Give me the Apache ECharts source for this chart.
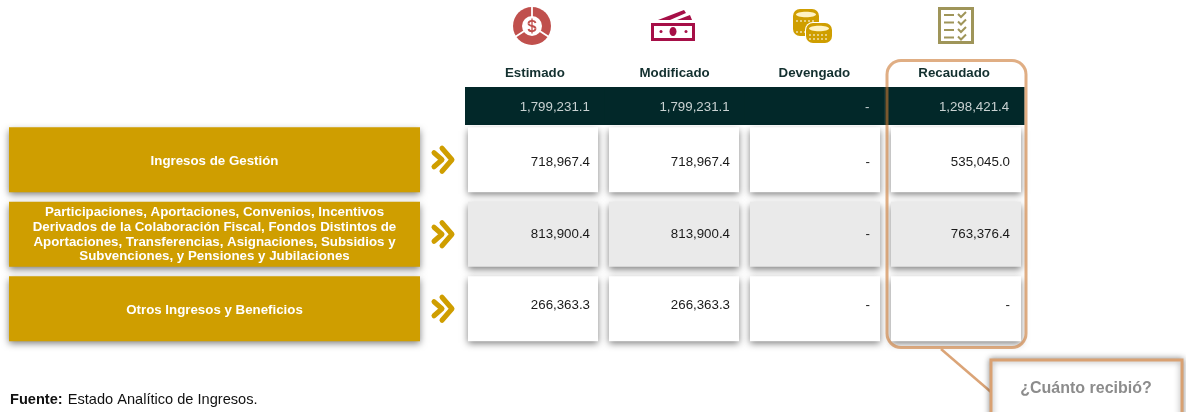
<!DOCTYPE html>
<html>
<head>
<meta charset="utf-8">
<style>
html, body { margin: 0; padding: 0; background: #fff; }
#chart { width: 1186px; height: 412px; }
</style>
<script src="https://cdn.jsdelivr.net/npm/echarts@6/dist/echarts.min.js"></script>
</head>
<body>
<div id="chart"></div>
<script>
// datos de la tabla
var columnas = ['Estimado', 'Modificado', 'Devengado', 'Recaudado'];
var conceptos = [
  'Ingresos de Gestión',
  'Participaciones, Aportaciones, Convenios, Incentivos\nDerivados de la Colaboración Fiscal, Fondos Distintos de\nAportaciones, Transferencias, Asignaciones, Subsidios y\nSubvenciones, y Pensiones y Jubilaciones',
  'Otros Ingresos y Beneficios'
];
var totales = [1799231.1, 1799231.1, null, 1298421.4];
var estimado = [718967.4, 813900.4, 266363.3];
var modificado = [718967.4, 813900.4, 266363.3];
var devengado = [null, null, null];
var recaudado = [535045.0, 763376.4, null];

var GOLD = '#CF9E00';
var DARK = '#022829';
var FONT = '"Liberation Sans", Arial, sans-serif';
var LINE = 'rgba(203,120,50,.6)';

var fmt = function (v) {
  if (v === null) return '-';
  return v.toLocaleString('en-US', { minimumFractionDigits: 1, maximumFractionDigits: 1 });
};

var cellData = [];
[estimado, modificado, devengado, recaudado].forEach(function (serie, c) {
  serie.forEach(function (v, r) {
    cellData.push([c, r, v]);
  });
});

var sombra = { shadowBlur: 7, shadowColor: 'rgba(0,0,0,.5)', shadowOffsetY: 3 };
// el texto de las celdas no va centrado en la fila
var ajusteFila = [2.5, 0, -3.5];
var ajusteColumna = [8, 9, 10, 11];
var ajusteConcepto = [1.5, 0.5, 1.5];

var renderCelda = function (params, api) {
  var c = api.value(0), r = api.value(1);
  var p = api.coord([c, r]);
  var w = 130, h = 65;
  return {
    type: 'group',
    children: [{
      type: 'rect',
      shape: { x: p[0] - w / 2, y: p[1] - h / 2, width: w, height: h },
      style: Object.assign({ fill: r === 1 ? '#EAEAEA' : '#fff' }, sombra)
    }, {
      type: 'text',
      z2: 5,
      style: {
        x: p[0] + w / 2 - ajusteColumna[c],
        y: p[1] + ajusteFila[r],
        text: fmt(cellData[params.dataIndex][2]),
        fill: '#1a1a1a',
        font: '13.3px ' + FONT,
        textAlign: 'right',
        textVerticalAlign: 'middle'
      }
    }]
  };
};

var renderTotal = function (params, api) {
  var c = api.value(0);
  var p = api.coord([c, 0]);
  var s = api.size([1, 1]);
  return {
    type: 'group',
    children: [{
      type: 'rect',
      shape: { x: p[0] - s[0] / 2, y: p[1] - s[1] / 2, width: s[0] + 0.5, height: s[1] },
      style: { fill: DARK }
    }, {
      type: 'text',
      z2: 5,
      style: {
        x: p[0] + 55,
        y: p[1] + 1,
        text: fmt(totales[c]),
        fill: '#C9D2D2',
        font: '13.3px ' + FONT,
        textAlign: 'right',
        textVerticalAlign: 'middle'
      }
    }]
  };
};

var renderConcepto = function (params, api) {
  var r = api.value(1);
  var p = api.coord([0, r]);
  var s = api.size([1, 1]);
  var h = 65;
  var x = p[0] + s[0] / 2;
  return {
    type: 'group',
    children: [{
      type: 'rect',
      shape: { x: x - s[0], y: p[1] - h / 2, width: s[0], height: h },
      style: Object.assign({ fill: GOLD }, sombra)
    }, {
      type: 'text',
      z2: 5,
      style: {
        x: p[0],
        y: p[1] + ajusteConcepto[r],
        text: conceptos[r],
        fill: '#fff',
        font: 'bold 13.3px ' + FONT,
        lineHeight: 14.7,
        textAlign: 'center',
        textVerticalAlign: 'middle'
      }
    }, {
      type: 'polyline',
      shape: { points: [[x + 14, p[1] - 7], [x + 22, p[1]], [x + 14, p[1] + 7]] },
      style: { fill: null, stroke: GOLD, lineWidth: 5, lineCap: 'round', lineJoin: 'round' }
    }, {
      type: 'polyline',
      shape: { points: [[x + 22, p[1] - 11.5], [x + 32, p[1]], [x + 22, p[1] + 11.5]] },
      style: { fill: null, stroke: GOLD, lineWidth: 5, lineCap: 'round', lineJoin: 'round' }
    }]
  };
};

// iconos de cabecera
var ROJO = '#C0504D', VINO = '#A60F47', OLIVO = '#9F9559';
var curva = function (x1, y1, cx1, cy1, cx2, cy2, x2, y2) {
  return {
    type: 'bezierCurve',
    shape: { x1: x1, y1: y1, cpx1: cx1, cpy1: cy1, cpx2: cx2, cpy2: cy2, x2: x2, y2: y2 },
    style: { fill: null, stroke: ROJO, lineWidth: 1.8 }
  };
};
var icono1 = {
  type: 'group', x: 532, y: 26, children: [
    { type: 'circle', shape: { r: 19 }, style: { fill: ROJO } },
    { type: 'line', shape: { x1: 0, y1: 0, x2: 0, y2: -19 }, style: { stroke: '#fff', lineWidth: 1.8 } },
    { type: 'line', shape: { x1: 0, y1: 0, x2: -17, y2: 11 }, style: { stroke: '#fff', lineWidth: 1.8 } },
    { type: 'line', shape: { x1: 0, y1: 0, x2: 17, y2: 11 }, style: { stroke: '#fff', lineWidth: 1.8 } },
    { type: 'circle', shape: { r: 10 }, style: { fill: '#fff' } },
    curva(3.5, -3, 3, -6, -3.5, -6, -3.5, -2.5),
    curva(-3.5, -2.5, -3.5, 1, 3.5, -1, 3.5, 2.5),
    curva(3.5, 2.5, 3.5, 6, -3, 6, -3.5, 3),
    { type: 'line', shape: { x1: 0, y1: -7.5, x2: 0, y2: 7.5 }, style: { stroke: ROJO, lineWidth: 1.3 } }
  ]
};
var icono2 = {
  type: 'group', x: 651, y: 10, children: [
    { type: 'rect', shape: { x: 1.5, y: 14.5, width: 41, height: 15 }, style: { fill: '#fff', stroke: VINO, lineWidth: 3 } },
    { type: 'ellipse', shape: { cx: 22, cy: 21.5, rx: 3.5, ry: 4.5 }, style: { fill: VINO } },
    { type: 'circle', shape: { cx: 10, cy: 21.5, r: 1.5 }, style: { fill: VINO } },
    { type: 'circle', shape: { cx: 35, cy: 21.5, r: 1.5 }, style: { fill: VINO } },
    { type: 'polygon', shape: { points: [[7, 10], [33, 0], [35, 3], [19, 10]] }, style: { fill: VINO } },
    { type: 'polygon', shape: { points: [[26, 10], [39, 5], [41, 10]] }, style: { fill: VINO } }
  ]
};
var moneda = function (x, y, w, h) {
  return [
    { type: 'rect', shape: { x: x - 1, y: y - 1, width: w + 2, height: h + 2, r: 8 }, style: { fill: '#fff' } },
    { type: 'rect', shape: { x: x, y: y, width: w, height: h, r: 7 }, style: { fill: GOLD } },
    { type: 'ellipse', shape: { cx: x + w / 2, cy: y + 5.5, rx: w / 2 - 3, ry: 2.8 }, style: { fill: '#FFF3C4' } },
    { type: 'line', shape: { x1: x + 3, y1: y + 12, x2: x + w - 3, y2: y + 12 }, style: { stroke: '#fff', lineWidth: 1.2, lineDash: [2, 2] } },
    { type: 'line', shape: { x1: x + 3, y1: y + h - 4, x2: x + w - 3, y2: y + h - 4 }, style: { stroke: '#fff', lineWidth: 1.2, lineDash: [2, 2] } }
  ];
};
var icono3 = { type: 'group', children: moneda(793, 9, 26, 27).concat(moneda(806, 23, 26, 20)) };
var check = function (y) {
  return [
    { type: 'line', shape: { x1: 6, y1: y, x2: 16, y2: y }, style: { stroke: OLIVO, lineWidth: 2 } },
    { type: 'polyline', shape: { points: [[20, y - 1], [23, y + 2], [28, y - 3]] }, style: { fill: null, stroke: OLIVO, lineWidth: 2 } }
  ];
};
var icono4 = {
  type: 'group', x: 938, y: 7, children: [
    { type: 'rect', shape: { x: 1.5, y: 1.5, width: 33, height: 34 }, style: { fill: '#fff', stroke: OLIVO, lineWidth: 3 } }
  ].concat(check(8), check(15.5), check(23), check(30.5))
};

var chart = echarts.init(document.getElementById('chart'), null, { renderer: 'canvas' });
var ejeOculto = function (d, grid) {
  return { type: 'category', data: d, gridIndex: grid, show: false };
};
var option = {
  animation: false,
  backgroundColor: '#fff',
  textStyle: { fontFamily: FONT },
  title: {
    left: 10, top: 391,
    padding: 0,
    itemGap: 0,
    text: '{b|Fuente:} {n|Estado Analítico de Ingresos.}',
    textStyle: {
      rich: {
        b: { fontFamily: FONT, fontWeight: 'bold', fontSize: 14.6, color: '#111' },
        n: { fontFamily: FONT, fontWeight: 'normal', fontSize: 14.6, color: '#111' }
      }
    }
  },
  grid: [
    { left: 465, width: 559, top: 87, height: 38 },
    { left: 462.5, width: 564, top: 122.5, height: 223.5 },
    { left: 9, width: 411, top: 122.5, height: 223.5 }
  ],
  xAxis: [
    {
      type: 'category', data: columnas, gridIndex: 0, position: 'top',
      axisLine: { show: false }, axisTick: { show: false },
      axisLabel: { margin: 7, fontFamily: FONT, fontWeight: 'bold', fontSize: 13.3, color: '#13302F' }
    },
    ejeOculto(columnas, 1),
    ejeOculto(['concepto'], 2)
  ],
  yAxis: [
    ejeOculto(['total'], 0),
    Object.assign(ejeOculto(conceptos, 1), { inverse: true }),
    Object.assign(ejeOculto(conceptos, 2), { inverse: true })
  ],
  series: [
    {
      type: 'custom', xAxisIndex: 0, yAxisIndex: 0, z: 2,
      renderItem: renderTotal,
      encode: { x: 0, y: 1 },
      data: totales.map(function (v, i) { return [i, 0, v]; })
    },
    {
      type: 'custom', xAxisIndex: 1, yAxisIndex: 1, z: 3,
      renderItem: renderCelda,
      encode: { x: 0, y: 1 },
      data: cellData
    },
    {
      type: 'custom', xAxisIndex: 2, yAxisIndex: 2, z: 3,
      renderItem: renderConcepto,
      encode: { x: 0, y: 1 },
      clip: false,
      data: conceptos.map(function (n, i) { return [0, i]; })
    }
  ],
  graphic: [
    icono1, icono2, icono3, icono4,
    // recuadro de Recaudado y globo
    { type: 'rect', z: 100, shape: { x: 887, y: 60.5, width: 139, height: 287, r: 14 }, style: { fill: null, stroke: LINE, lineWidth: 3 } },
    { type: 'line', z: 100, shape: { x1: 941, y1: 349, x2: 991, y2: 392 }, style: { stroke: '#DBA477', lineWidth: 2.5 } },
    {
      type: 'rect', z: 100,
      shape: { x: 991, y: 360, width: 191, height: 70 },
      style: { fill: '#fff', stroke: '#D9A172', lineWidth: 3, shadowBlur: 6, shadowColor: 'rgba(0,0,0,.4)' }
    },
    {
      type: 'text', z: 101, x: 1086, y: 389,
      style: { text: '¿Cuánto recibió?', fill: '#8C8C8C', font: 'bold 16px ' + FONT, textAlign: 'center', textVerticalAlign: 'middle' }
    }
  ]
};
chart.setOption(option);
</script>
</body>
</html>
